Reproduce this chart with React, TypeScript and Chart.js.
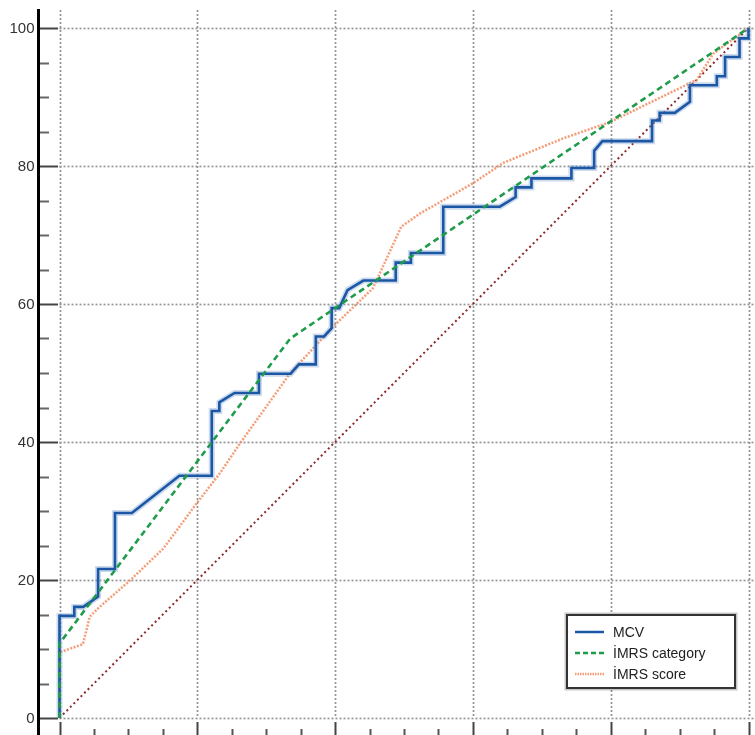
import React, { useEffect, useRef } from "react";
import { Chart, registerables } from "chart.js";

Chart.register(...registerables);

// ROC curve points [false-positive %, sensitivity %]
const mcvPoints: [number, number][] = [
  [0, 0], [0, 14.8], [2.15, 14.8], [2.15, 16.1], [3.45, 16.1], [5.6, 17.6], [5.6, 21.6],
  [8.05, 21.6], [8.05, 29.7], [10.5, 29.7], [17.4, 35.1], [22.1, 35.1], [22.1, 44.5],
  [23.2, 44.5], [23.2, 45.75], [25.4, 47.1], [28.95, 47.1], [28.95, 49.9], [33.55, 49.9],
  [34.75, 51.25], [37.2, 51.25], [37.2, 55.3], [38.4, 55.3], [39.5, 56.5], [39.5, 59.4],
  [40.6, 59.4], [41.8, 62.0], [44.1, 63.4], [48.8, 63.4], [48.8, 66.0], [51.0, 66.0],
  [51.0, 67.4], [55.7, 67.4], [55.7, 74.1], [63.9, 74.1], [66.2, 75.5], [66.2, 76.9],
  [68.5, 76.9], [68.5, 78.2], [74.3, 78.2], [74.3, 79.7], [77.6, 79.7], [77.6, 82.2],
  [78.8, 83.6], [86.0, 83.6], [86.0, 86.6], [87.1, 86.6], [87.1, 87.7], [89.3, 87.7],
  [91.5, 89.3], [91.5, 91.7], [95.4, 91.7], [95.4, 93.0], [96.6, 93.0], [96.6, 95.8],
  [98.7, 95.8], [98.7, 98.5], [100, 98.5], [100, 100],
];

const imrsCategoryPoints: [number, number][] = [
  [0, 0], [0, 10.8], [33.5, 55.0], [100, 100],
];

const imrsScorePoints: [number, number][] = [
  [0, 0], [0, 9.5], [3.4, 10.7], [4.4, 14.7], [5.6, 15.9], [10.2, 19.9], [15.1, 24.6],
  [19.9, 31.1], [23.3, 35.5], [26.2, 39.8], [33.5, 50.0], [39.7, 56.7], [45.5, 62.3],
  [49.6, 71.2], [52.3, 73.1], [60.0, 77.5], [64.5, 80.5], [73.1, 84.0], [80.0, 86.4],
  [92.5, 92.5], [94.9, 96.3], [100, 100],
];

const diagonalPoints: [number, number][] = [[0, 0], [100, 100]];

const seriesLabels = ["MCV", "İMRS category", "İMRS score"];
const yTickLabels = [0, 20, 40, 60, 80, 100];
const minorStep = 5;

const BLUE = "#1c57a5";
const GREEN = "#1f9c4a";
const ORANGE = "rgba(242,140,96,0.85)";
const RED = "#8c2a2a";
const FONT = '14px "Liberation Sans", Arial, sans-serif';
const AXIS_FONT = '15px "Liberation Sans", Arial, sans-serif';

const toXY = (pts: [number, number][]) => pts.map(([x, y]) => ({ x, y }));

const axesPlugin = {
  id: "axesPlugin",
  beforeDatasetsDraw(chart: any) {
    const ctx = chart.ctx;
    const xs = chart.scales.x;
    const ys = chart.scales.y;
    const W = chart.width;
    const H = chart.height;
    const axisX = 38.5;
    const topY = 10;
    ctx.save();
    // dotted grid
    ctx.strokeStyle = "#959595";
    ctx.lineWidth = 1.7;
    ctx.setLineDash([2, 2]);
    for (const v of yTickLabels) {
      const px = Math.round(xs.getPixelForValue(v)) + 0.5;
      ctx.beginPath();
      ctx.moveTo(px, topY);
      ctx.lineTo(px, ys.getPixelForValue(0));
      ctx.stroke();
      const py = Math.round(ys.getPixelForValue(v)) + 0.5;
      ctx.beginPath();
      ctx.moveTo(xs.getPixelForValue(0), py);
      ctx.lineTo(W, py);
      ctx.stroke();
    }
    ctx.setLineDash([]);
    // y axis line
    ctx.strokeStyle = "#000";
    ctx.lineWidth = 3;
    ctx.beginPath();
    ctx.moveTo(axisX, topY - 1);
    ctx.lineTo(axisX, H);
    ctx.stroke();
    // y ticks
    for (let v = 0; v <= 100; v += minorStep) {
      const major = v % 20 === 0;
      const py = Math.round(ys.getPixelForValue(v)) + 0.5;
      ctx.strokeStyle = major ? "#444" : "#666";
      ctx.lineWidth = 2;
      ctx.beginPath();
      ctx.moveTo(40, py);
      ctx.lineTo(major ? 58 : 49, py);
      ctx.stroke();
    }
    // x ticks (bottom, inward from an axis below the view)
    for (let v = 0; v <= 100; v += minorStep) {
      const major = v % 20 === 0;
      const px = Math.round(xs.getPixelForValue(v)) + 0.5;
      ctx.strokeStyle = major ? "#444" : "#555";
      ctx.lineWidth = 2;
      ctx.beginPath();
      ctx.moveTo(px, major ? 722 : 729);
      ctx.lineTo(px, H);
      ctx.stroke();
    }
    // y labels
    ctx.fillStyle = "#333";
    ctx.font = AXIS_FONT;
    ctx.textAlign = "right";
    ctx.textBaseline = "middle";
    for (const v of yTickLabels) {
      ctx.fillText(String(v), 34.5, ys.getPixelForValue(v) + 1);
    }
    ctx.restore();
  },
  afterDatasetsDraw(chart: any) {
    const ctx = chart.ctx;
    ctx.save();
    const bx = 567, by = 615, bw = 168, bh = 73;
    // shadow
    ctx.strokeStyle = "rgba(0,0,0,0.22)";
    ctx.lineWidth = 5;
    ctx.strokeRect(bx, by, bw, bh);
    ctx.fillStyle = "#fff";
    ctx.fillRect(bx, by, bw, bh);
    ctx.strokeStyle = "#333";
    ctx.lineWidth = 2;
    ctx.strokeRect(bx, by, bw, bh);
    const rows = [632, 653, 674];
    const styles = [
      { c: BLUE, w: 2.5, d: [] as number[] },
      { c: GREEN, w: 2.5, d: [5, 3] },
      { c: ORANGE, w: 2.5, d: [1.5, 1] },
    ];
    for (let i = 0; i < 3; i++) {
      ctx.strokeStyle = styles[i].c;
      ctx.lineWidth = styles[i].w;
      ctx.setLineDash(styles[i].d);
      ctx.beginPath();
      ctx.moveTo(575, rows[i]);
      ctx.lineTo(604, rows[i]);
      ctx.stroke();
      ctx.setLineDash([]);
      ctx.fillStyle = "#222";
      ctx.font = FONT;
      ctx.textAlign = "left";
      ctx.textBaseline = "middle";
      ctx.fillText(seriesLabels[i], 613, rows[i] + 1);
    }
    ctx.restore();
  },
};

export default function App() {
  const ref = useRef<HTMLCanvasElement | null>(null);
  useEffect(() => {
    if (!ref.current) return;
    const common = { pointRadius: 0, pointHoverRadius: 0, fill: false, tension: 0, clip: false as any };
    const chart = new Chart(ref.current, {
      type: "line",
      data: {
        datasets: [
          { ...common, label: seriesLabels[1], data: toXY(imrsCategoryPoints), borderColor: GREEN, borderWidth: 2.6, borderDash: [6, 4] },
          { ...common, label: seriesLabels[0], data: toXY(mcvPoints), borderColor: BLUE, borderWidth: 2.6 },
          { ...common, label: "halo", data: toXY(mcvPoints), borderColor: "rgba(110,150,205,0.35)", borderWidth: 6 },
          { ...common, label: seriesLabels[2], data: toXY(imrsScorePoints), borderColor: ORANGE, borderWidth: 2.5, borderDash: [2, 1.5] },
          { ...common, label: "reference", data: toXY(diagonalPoints), borderColor: RED, borderWidth: 2, borderDash: [2, 3] },
        ],
      },
      options: {
        responsive: false,
        animation: false,
        devicePixelRatio: 1,
        layout: { padding: { left: 59.5, right: 6.5, top: 28, bottom: 17 } },
        scales: {
          x: { type: "linear", min: 0, max: 100, display: false },
          y: { type: "linear", min: 0, max: 100, display: false },
        },
        plugins: { legend: { display: false }, tooltip: { enabled: false } },
        events: [],
      },
      plugins: [axesPlugin],
    });
    return () => chart.destroy();
  }, []);
  return (
    <div style={{ position: "absolute", left: 0, top: 0, width: 755, height: 735, background: "#fff" }}>
      <canvas ref={ref} width={755} height={735} style={{ display: "block" }} />
    </div>
  );
}
